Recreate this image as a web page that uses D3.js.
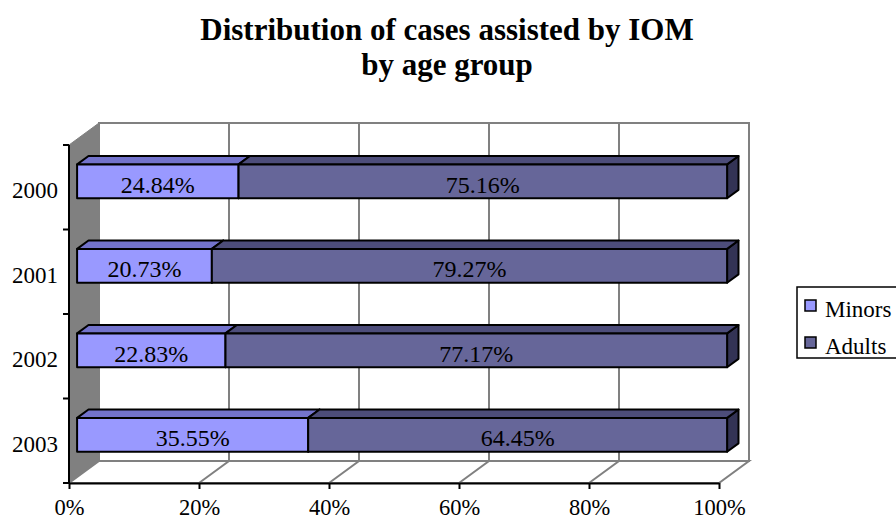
<!DOCTYPE html>
<html>
  <head>
    <meta charset="utf-8" />
    <script src="https://cdn.jsdelivr.net/npm/d3@7"></script>
    <style>
        body { margin: 0; background: #fff; }
        text { font-family: "Liberation Serif", "Times New Roman", serif; fill: #000; }
        .title { font-weight: bold; font-size: 31px; }
    </style>
  </head>
  <body>
    <script type="text/javascript">

        // data
        var years = ["2000", "2001", "2002", "2003"];
        var minors = [24.84, 20.73, 22.83, 35.55];
        var adults = [75.16, 79.27, 77.17, 64.45];
        var seriesNames = ["Minors", "Adults"];
        var xTicks = [0, 20, 40, 60, 80, 100];

        var width = 896, height = 521;

        // depth of the 3d box
        var ddx = 30, ddy = -22;
        var dFront = 0.27, dBack = 0.65;

        var faces = {
            Minors: { front: "#9999FF", top: "#7373CC", side: "#4D4D80" },
            Adults: { front: "#666699", top: "#4D4D7A", side: "#333355" }
        };

        var svg = d3.select("body").append("svg")
            .attr("width", width)
            .attr("height", height);

        var x = d3.scaleLinear().domain([0, 100]).range([69, 719]);
        var y = d3.scaleBand().domain(years).range([145, 483])
            .paddingInner(0.6).paddingOuter(0.3);

        function p(xv, yv, d) {
            return [x(xv) + d * ddx, yv + d * ddy];
        }
        function poly(pts) {
            return pts.map(function(q) { return q.join(","); }).join(" ");
        }

        // title
        svg.append("text").attr("class", "title")
            .attr("x", 447).attr("y", 40).attr("text-anchor", "middle")
            .text("Distribution of cases assisted by IOM");
        svg.append("text").attr("class", "title")
            .attr("x", 447).attr("y", 75).attr("text-anchor", "middle")
            .text("by age group");

        var top0 = y.range()[0], bot0 = y.range()[1];

        // left wall
        svg.append("polygon")
            .attr("points", poly([p(0, top0, 0), p(0, top0, 1), p(0, bot0, 1), p(0, bot0, 0)]))
            .attr("fill", "#808080")
            .attr("stroke", "#808080");

        // back wall
        svg.append("polygon")
            .attr("points", poly([p(0, top0, 1), p(100, top0, 1), p(100, bot0, 1), p(0, bot0, 1)]))
            .attr("fill", "#fff")
            .attr("stroke", "#808080")
            .attr("stroke-width", 2);

        // floor
        svg.append("polygon")
            .attr("points", poly([p(0, bot0, 0), p(100, bot0, 0), p(100, bot0, 1), p(0, bot0, 1)]))
            .attr("fill", "#fff")
            .attr("stroke", "#808080")
            .attr("stroke-width", 2);

        // gridlines on wall and floor
        var grid = svg.append("g").attr("stroke", "#808080").attr("stroke-width", 2);
        xTicks.slice(1, -1).forEach(function(t) {
            var a = p(t, top0, 1), b = p(t, bot0, 1), c = p(t, bot0, 0);
            grid.append("polyline").attr("fill", "none").attr("points", poly([a, b, c]));
        });

        // axes (front edges)
        var xAxis = d3.axisBottom(x)
            .tickValues(xTicks)
            .tickFormat(function(d) { return d + "%"; })
            .tickSize(6).tickSizeOuter(0);
        var gx = svg.append("g")
            .attr("transform", "translate(0," + bot0 + ")")
            .call(xAxis);
        gx.select(".domain").attr("stroke", "#000").attr("stroke-width", 2);
        gx.selectAll(".tick line").attr("stroke", "#000").attr("stroke-width", 2);
        gx.selectAll(".tick text")
            .attr("font-size", 22.5)
            .attr("y", 32)
            .attr("dy", 0);

        var yAxisScale = d3.scalePoint().domain(years).range([top0, bot0]).padding(0.5);
        var gy = svg.append("g").attr("transform", "translate(" + x(0) + ",0)");
        gy.append("line").attr("x1", 0).attr("x2", 0).attr("y1", top0).attr("y2", bot0)
            .attr("stroke", "#000").attr("stroke-width", 2);
        var step = y.step();
        gy.selectAll(".tk").data(d3.range(years.length + 1)).enter().append("line")
            .attr("x1", -6).attr("x2", 0)
            .attr("y1", function(i) { return top0 + i * step; })
            .attr("y2", function(i) { return top0 + i * step; })
            .attr("stroke", "#000").attr("stroke-width", 2);
        gy.selectAll(".lbl").data(years).enter().append("text")
            .attr("x", -11)
            .attr("y", function(d) { return yAxisScale(d); })
            .attr("dy", "0.47em")
            .attr("text-anchor", "end")
            .attr("font-size", 23)
            .text(function(d) { return d; });

        // bars
        var rows = years.map(function(yr, i) {
            return { year: yr, segs: [
                { name: "Minors", x0: 0, x1: minors[i], v: minors[i] },
                { name: "Adults", x0: minors[i], x1: minors[i] + adults[i], v: adults[i] }
            ]};
        });

        var bars = svg.append("g");
        rows.forEach(function(r) {
            var yt = y(r.year), yb = y(r.year) + y.bandwidth();
            r.segs.forEach(function(s) {
                var c = faces[s.name];
                var g = bars.append("g").attr("stroke", "#000").attr("stroke-width", 2)
                    .attr("stroke-linejoin", "round");
                g.append("polygon").attr("fill", c.side)
                    .attr("points", poly([p(s.x1, yt, dFront), p(s.x1, yt, dBack), p(s.x1, yb, dBack), p(s.x1, yb, dFront)]));
                g.append("polygon").attr("fill", c.top)
                    .attr("points", poly([p(s.x0, yt, dFront), p(s.x0, yt, dBack), p(s.x1, yt, dBack), p(s.x1, yt, dFront)]));
                g.append("polygon").attr("fill", c.front)
                    .attr("points", poly([p(s.x0, yt, dFront), p(s.x1, yt, dFront), p(s.x1, yb, dFront), p(s.x0, yb, dFront)]));
            });
            r.segs.forEach(function(s) {
                var a = p((s.x0 + s.x1) / 2, (yt + yb) / 2, dFront);
                bars.append("text")
                    .attr("x", a[0]).attr("y", a[1]).attr("dy", "0.47em")
                    .attr("text-anchor", "middle")
                    .attr("font-size", 24)
                    .text(s.v.toFixed(2) + "%");
            });
        });

        // legend
        var lg = svg.append("g").attr("transform", "translate(797,287)");
        lg.append("rect").attr("x", 0).attr("y", 0).attr("width", 110).attr("height", 71)
            .attr("fill", "#fff").attr("stroke", "#000").attr("stroke-width", 1.5);
        seriesNames.forEach(function(n, i) {
            var row = lg.append("g").attr("transform", "translate(8," + (13 + i * 37) + ")");
            row.append("rect").attr("width", 11).attr("height", 11)
                .attr("fill", faces[n].front).attr("stroke", "#000").attr("stroke-width", 1.5);
            row.append("text").attr("x", 20).attr("y", 17)
                .attr("font-size", 23).text(n);
        });

    </script>
  </body>
</html>
